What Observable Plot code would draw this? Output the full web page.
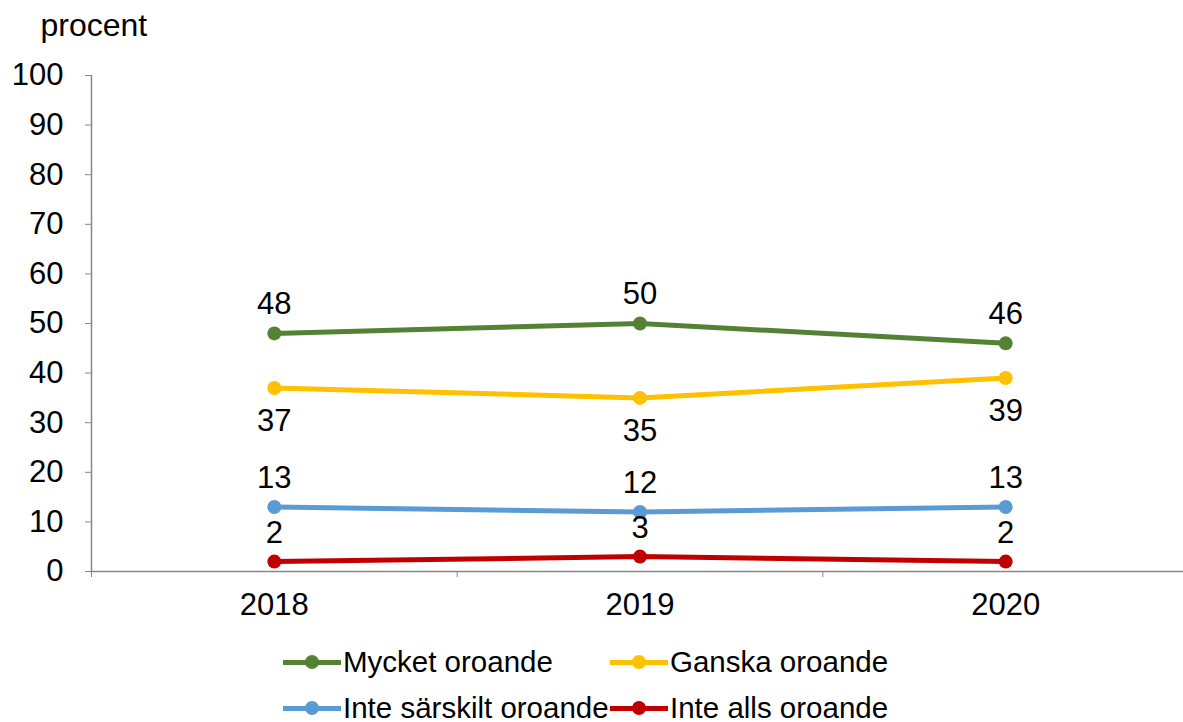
<!DOCTYPE html>
<html>
<head>
<meta charset="utf-8">
<script src="https://cdn.jsdelivr.net/npm/d3@7"></script>
<script src="https://cdn.jsdelivr.net/npm/@observablehq/plot@0.6"></script>
<style>
  body { margin: 0; background: #fff; font-family: "Liberation Sans", Arial, sans-serif; }
  #wrap { position: relative; width: 1183px; }
  #legend { position: relative; width: 1183px; height: 92px; }
  .item { position: absolute; display: flex; align-items: center; font-size: 29.5px; color: #000; white-space: nowrap; }
  .sw { position: relative; width: 58px; height: 5px; margin-right: 2px; }
  .sw .ln { position: absolute; left: 0; top: 0; width: 58px; height: 5px; }
  .sw .dt { position: absolute; left: 22px; top: -5px; width: 14px; height: 14px; border-radius: 50%; }
</style>
</head>
<body>
<div id="wrap">
  <div id="chart"></div>
  <div id="legend"></div>
</div>
<script>
const years = [2018, 2019, 2020];
const series = ["Mycket oroande", "Ganska oroande", "Inte särskilt oroande", "Inte alls oroande"];
const mycket = [48, 50, 46];
const ganska = [37, 35, 39];
const inteSarskilt = [13, 12, 13];
const inteAlls = [2, 3, 2];
const colors = ["#548235", "#FFC000", "#5B9BD5", "#C00000"];
const yTicks = [0, 10, 20, 30, 40, 50, 60, 70, 80, 90, 100];
const yLabel = "procent";

const values = [mycket, ganska, inteSarskilt, inteAlls];
const rows = [];
series.forEach((s, i) => years.forEach((yr, j) => rows.push({series: s, year: yr, value: values[i][j]})));
const above = rows.filter(d => d.series !== "Ganska oroande");
const below = rows.filter(d => d.series === "Ganska oroande");
const bounds = [years[0] - 0.5, years[1] - 0.5, years[2] - 0.5];

const FS = 31;
const chart = Plot.plot({
  width: 1183,
  height: 630,
  marginLeft: 91,
  marginRight: 0,
  marginTop: 75,
  marginBottom: 59,
  style: {fontFamily: "Liberation Sans, Arial, sans-serif", background: "#fff"},
  x: {type: "linear", domain: [years[0] - 0.5, years[2] + 0.5], range: [91, 1188]},
  y: {domain: [0, 100]},
  color: {domain: series, range: colors},
  marks: [
    Plot.ruleX([bounds[0]], {y1: 0, y2: 100, stroke: "#868686", strokeWidth: 1.5}),
    Plot.ruleY([0], {stroke: "#868686", strokeWidth: 1.5}),
    Plot.axisY({ticks: yTicks, tickSize: 6, tickPadding: 22, stroke: "#868686", fill: "#000", fontSize: FS, label: null}),
    Plot.axisX({ticks: bounds, tickSize: 6, tickFormat: () => "", stroke: "#868686", label: null}),
    Plot.axisX({ticks: years, tickSize: 0, tickPadding: 21, tickFormat: d => String(d), fill: "#000", fontSize: FS, label: null}),
    Plot.line(rows, {x: "year", y: "value", stroke: "series", z: "series", strokeWidth: 5}),
    Plot.dot(rows, {x: "year", y: "value", fill: "series", r: 7}),
    Plot.text(above, {x: "year", y: "value", text: d => String(d.value), dy: -29, fontSize: FS, fill: "#000"}),
    Plot.text(below, {x: "year", y: "value", text: d => String(d.value), dy: 33, fontSize: FS, fill: "#000"}),
    Plot.text([yLabel], {frameAnchor: "top-left", text: d => d, textAnchor: "start", dx: -51, dy: -62, fontSize: FS + 1, fill: "#000"})
  ]
});
document.getElementById("chart").appendChild(chart);

const legendPos = [[283, 32], [610, 32], [283, 78], [610, 78]];
const legend = document.getElementById("legend");
series.forEach((s, i) => {
  const it = document.createElement("div");
  it.className = "item";
  it.style.left = legendPos[i][0] + "px";
  it.style.top = (legendPos[i][1] - 17) + "px";
  it.style.height = "34px";
  it.innerHTML = `<div class="sw"><div class="ln" style="background:${colors[i]}"></div><div class="dt" style="background:${colors[i]}"></div></div><span>${s}</span>`;
  legend.appendChild(it);
});
</script>
</body>
</html>
